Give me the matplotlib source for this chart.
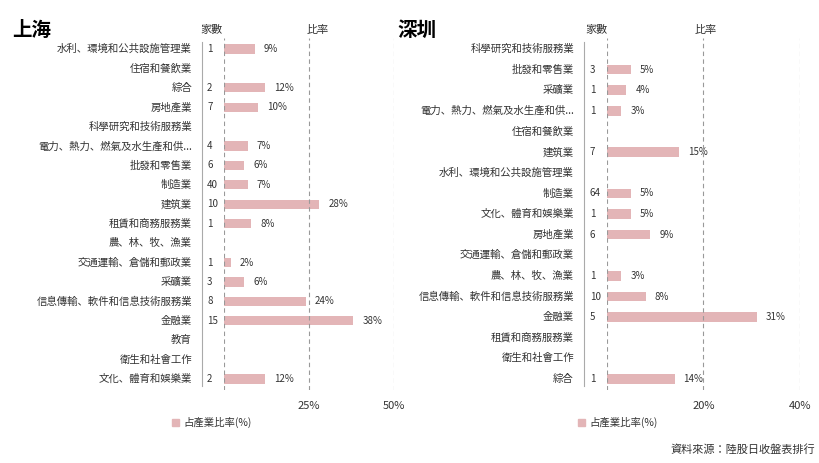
import matplotlib
matplotlib.use("Agg")
import matplotlib.pyplot as plt
from matplotlib import font_manager

names = {f.name for f in font_manager.fontManager.ttflist}
cjk = [n for n in ["Noto Sans CJK TC", "Noto Sans CJK JP", "Noto Sans CJK SC", "Noto Sans CJK KR"] if n in names]
plt.rcParams['font.family'] = cjk + ['DejaVu Sans']

sh_cats = ["水利、環境和公共設施管理業", "住宿和餐飲業", "綜合", "房地產業", "科學研究和技術服務業",
           "電力、熱力、燃氣及水生產和供...", "批發和零售業", "制造業", "建筑業", "租賃和商務服務業",
           "農、林、牧、漁業", "交通運輸、倉儲和郵政業", "采礦業", "信息傳輸、軟件和信息技術服務業",
           "金融業", "教育", "衛生和社會工作", "文化、體育和娛樂業"]
sh_counts = [1, None, 2, 7, None, 4, 6, 40, 10, 1, None, 1, 3, 8, 15, None, None, 2]
sh_pct = [9, None, 12, 10, None, 7, 6, 7, 28, 8, None, 2, 6, 24, 38, None, None, 12]

sz_cats = ["科學研究和技術服務業", "批發和零售業", "采礦業", "電力、熱力、燃氣及水生產和供...",
           "住宿和餐飲業", "建筑業", "水利、環境和公共設施管理業", "制造業", "文化、體育和娛樂業",
           "房地產業", "交通運輸、倉儲和郵政業", "農、林、牧、漁業", "信息傳輸、軟件和信息技術服務業",
           "金融業", "租賃和商務服務業", "衛生和社會工作", "綜合"]
sz_counts = [None, 3, 1, 1, None, 7, None, 64, 1, 6, None, 1, 10, 5, None, None, 1]
sz_pct = [None, 5, 4, 3, None, 15, None, 5, 5, 9, None, 3, 8, 31, None, None, 14]

W, H = 820, 463
fig = plt.figure(figsize=(W/100, H/100), dpi=100)
BAR = "#E3B5B7"
TXT = "#333333"

def panel(x0, x1, xmax, ticks, cats, counts, pct, title, name, cnt_px, lab_px, solid_px, hdr_cnt, hdr_rate, leg_px):
    top, bot = 38, 390
    ax = fig.add_axes([x0/W, 1-bot/H, (x1-x0)/W, (bot-top)/H])
    n = len(cats)
    sp = (379-49)/(n-1)
    pad = 11/sp
    ax.set_xlim(0, xmax)
    ax.set_ylim(n-1+pad, -pad)
    ax.axis('off')
    scale = xmax/(x1-x0)
    for i, (c, k, p) in enumerate(zip(cats, counts, pct)):
        ax.text((lab_px-x0)*scale, i, c, ha='right', va='center', fontsize=7.5, color=TXT, clip_on=False)
        if p is not None:
            ax.barh(i, p, height=0.47, color=BAR)
            ax.text(p + 9*scale, i, f"{p}%", va='center', fontsize=7, color=TXT)
        if k is not None:
            ax.text((cnt_px-x0)*scale, i, str(k), va='center', ha='left', fontsize=7, color=TXT, clip_on=False)
    ax.axvline(0, color='#999999', lw=0.8, ls=(0, (4, 3)))
    for t in ticks:
        ax.axvline(t, color='#999999', lw=0.8, ls=(0, (4, 3)))
        fig.text((x0 + t/scale)/W, 1-406/H, f"{t}%", ha='center', va='center', fontsize=8, color=TXT)
    ax.plot([(solid_px-x0)*scale]*2, [-pad*0.6, n-1+pad*0.6], color='#AAAAAA', lw=0.8, clip_on=False)
    fig.text(hdr_cnt/W, 1-30/H, "家數", ha='center', va='center', fontsize=8, color=TXT)
    fig.text(hdr_rate/W, 1-30/H, "比率", ha='center', va='center', fontsize=8, color=TXT)
    fig.text(title/W, 1-30/H, name, ha='left', va='center', fontsize=14, fontweight='bold', color='black')
    fig.patches.append(plt.Rectangle((leg_px/W, 1-426/H), 7/W, 7/H, color=BAR, transform=fig.transFigure))
    fig.text((leg_px+11)/W, 1-422/H, "占產業比率(%)", ha='left', va='center', fontsize=7.5, color=TXT)

panel(224, 394, 50, [25, 50], sh_cats, sh_counts, sh_pct, 12, "上海", 207, 192, 202, 212, 318, 172)
panel(607, 800, 40, [20, 40], sz_cats, sz_counts, sz_pct, 397, "深圳", 590, 574, 584, 597, 706, 578)

fig.text(815/W, 1-450/H, "資料來源：陸股日收盤表排行", ha='right', va='center', fontsize=8, color=TXT)
fig.savefig("out.png", dpi=100, facecolor='white')
